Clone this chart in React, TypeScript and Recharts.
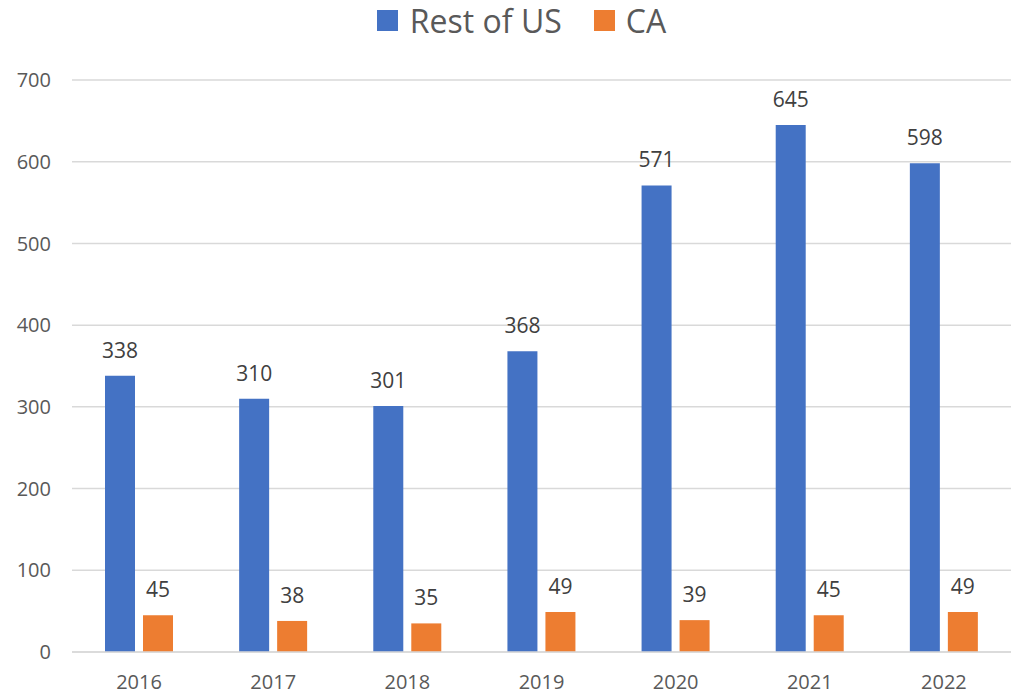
import React from 'react';
import { BarChart, Bar, XAxis, YAxis, CartesianGrid, Legend, LabelList } from 'recharts';

const years = ['2016', '2017', '2018', '2019', '2020', '2021', '2022'];
const restOfUS = [338, 310, 301, 368, 571, 645, 598];
const ca = [45, 38, 35, 49, 39, 45, 49];
const yTicks = [0, 100, 200, 300, 400, 500, 600, 700];

const data = years.map((y, i) => ({ year: y, rest: restOfUS[i], ca: ca[i] }));

const FONT = '"Open Sans", "Noto Sans", sans-serif';

const LegendContent = () => (
  <div style={{ height: 40, display: 'flex', justifyContent: 'center', alignItems: 'center', fontFamily: FONT, fontSize: 32, color: '#595959', paddingLeft: 32, boxSizing: 'border-box' }}>
    <span style={{ display: 'inline-block', width: 21, height: 21, background: '#4472C4', marginRight: 12 }} />
    <span style={{ marginRight: 32 }}>Rest of US</span>
    <span style={{ display: 'inline-block', width: 21, height: 21, background: '#ED7D31', marginRight: 11 }} />
    <span>CA</span>
  </div>
);

export default function App() {
  return (
    <div style={{ position: 'absolute', left: 0, top: 0, width: 1014, height: 694, background: '#fff' }}>
      <BarChart width={1014} height={694} data={data} margin={{ top: 40, right: 3, bottom: 0, left: 0 }} barSize={30} barGap={8}>
        <CartesianGrid vertical={false} stroke="#d9d9d9" strokeWidth={1.5} />
        <XAxis dataKey="year" axisLine={{ stroke: '#d9d9d9', strokeWidth: 1.5 }} tickLine={false} height={42} tickMargin={17}
          tick={{ fill: '#595959', fontSize: 20, fontFamily: FONT }} />
        <YAxis domain={[0, 700]} ticks={yTicks} axisLine={false} tickLine={false} width={72} tickMargin={15}
          tick={{ fill: '#595959', fontSize: 20, fontFamily: FONT }} />
        <Legend verticalAlign="top" align="center" content={<LegendContent />} wrapperStyle={{ top: 0, height: 40 }} />
        <Bar dataKey="rest" name="Rest of US" fill="#4472C4" isAnimationActive={false}>
          <LabelList dataKey="rest" position="top" offset={18} fill="#404040" fontSize={21} fontFamily={FONT} />
        </Bar>
        <Bar dataKey="ca" name="CA" fill="#ED7D31" isAnimationActive={false}>
          <LabelList dataKey="ca" position="top" offset={18} fill="#404040" fontSize={21} fontFamily={FONT} />
        </Bar>
      </BarChart>
    </div>
  );
}
